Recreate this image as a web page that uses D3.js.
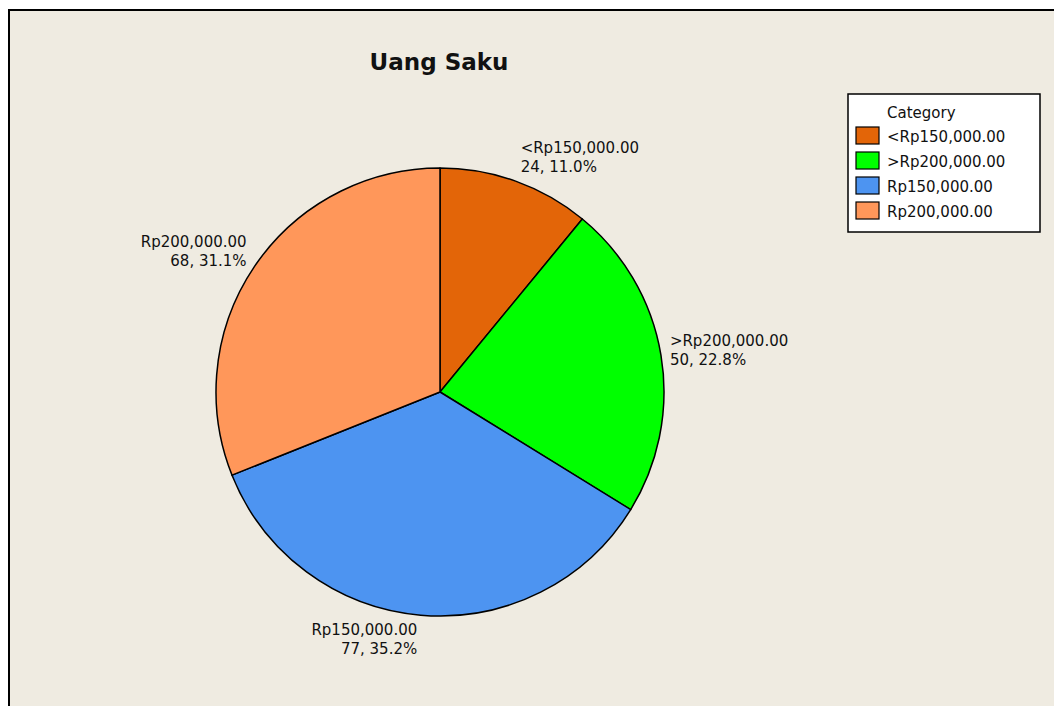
<!DOCTYPE html>
<html lang="en">
  <head>
    <meta charset="utf-8">
    <title>Uang Saku</title>
    <script src="https://d3js.org/d3.v7.min.js"></script>
    <style>
      body { margin: 0; background: #fff; }
      text { font-family: "DejaVu Sans", Verdana, sans-serif; fill: #111; }
    </style>
  </head>
  <body>
    <div id="pie-chart"></div>
    <script>
      var categories = ["<Rp150,000.00", ">Rp200,000.00", "Rp150,000.00", "Rp200,000.00"];
      var counts = [24, 50, 77, 68];
      var colors = ["#E36508", "#00FF00", "#4D94F1", "#FF975A"];

      var width = 1054, height = 706;
      var cx = 440, cy = 392, radius = 224;

      var svg = d3.select("#pie-chart").append("svg")
          .attr("width", width)
          .attr("height", height);

      // Frame (the graph region runs off the right and bottom of the picture)
      svg.append("rect")
          .attr("x", 9).attr("y", 10)
          .attr("width", width + 20).attr("height", height + 20)
          .attr("fill", "#EFEBE1")
          .attr("stroke", "#000")
          .attr("stroke-width", 2);

      svg.append("text")
          .attr("x", 439).attr("y", 70)
          .attr("text-anchor", "middle")
          .style("font-size", "23px")
          .style("font-weight", "bold")
          .text("Uang Saku");

      var total = d3.sum(counts);
      var data = categories.map(function(c, i) { return {cat: c, n: counts[i], color: colors[i]}; });

      var pie = d3.pie().sort(null).value(function(d) { return d.n; });
      var arc = d3.arc().innerRadius(0).outerRadius(radius);

      var g = svg.append("g").attr("transform", "translate(" + cx + "," + cy + ")");

      var slices = pie(data);
      g.selectAll("path")
          .data(slices)
          .enter().append("path")
          .attr("d", arc)
          .attr("fill", function(d) { return d.data.color; })
          .attr("stroke", "#000")
          .attr("stroke-width", 1.5)
          .attr("stroke-linejoin", "round");

      // Slice labels placed just outside each slice's middle angle
      var labelR = 230, lineH = 19, blockH = 38;
      slices.forEach(function(s) {
        var a = (s.startAngle + s.endAngle) / 2;
        var px = labelR * Math.sin(a), py = -labelR * Math.cos(a);
        var right = px >= 0;
        var top = py - blockH * (1 + Math.cos(a)) / 2;
        var x = px + (right ? 3 : -3);
        var pct = (s.data.n / total * 100).toFixed(1);
        var t = g.append("text")
            .attr("text-anchor", right ? "start" : "end")
            .style("font-size", "15px");
        t.append("tspan").attr("x", x).attr("y", top + 14).text(s.data.cat);
        t.append("tspan").attr("x", x).attr("y", top + 14 + lineH).text(s.data.n + ", " + pct + "%");
      });

      // Legend
      var legend = svg.append("g").attr("transform", "translate(848,94)");
      legend.append("rect")
          .attr("width", 192).attr("height", 138)
          .attr("fill", "#fff")
          .attr("stroke", "#000")
          .attr("stroke-width", 1.5);
      legend.append("text")
          .attr("x", 39).attr("y", 24)
          .style("font-size", "15px")
          .text("Category");
      var items = legend.selectAll(".item")
          .data(data)
          .enter().append("g")
          .attr("class", "item")
          .attr("transform", function(d, i) { return "translate(0," + (i * 25) + ")"; });
      items.append("rect")
          .attr("x", 8).attr("y", 33)
          .attr("width", 23).attr("height", 17)
          .attr("fill", function(d) { return d.color; })
          .attr("stroke", "#000")
          .attr("stroke-width", 1.2);
      items.append("text")
          .attr("x", 39).attr("y", 48)
          .style("font-size", "15px")
          .text(function(d) { return d.cat; });
    </script>
  </body>
</html>
